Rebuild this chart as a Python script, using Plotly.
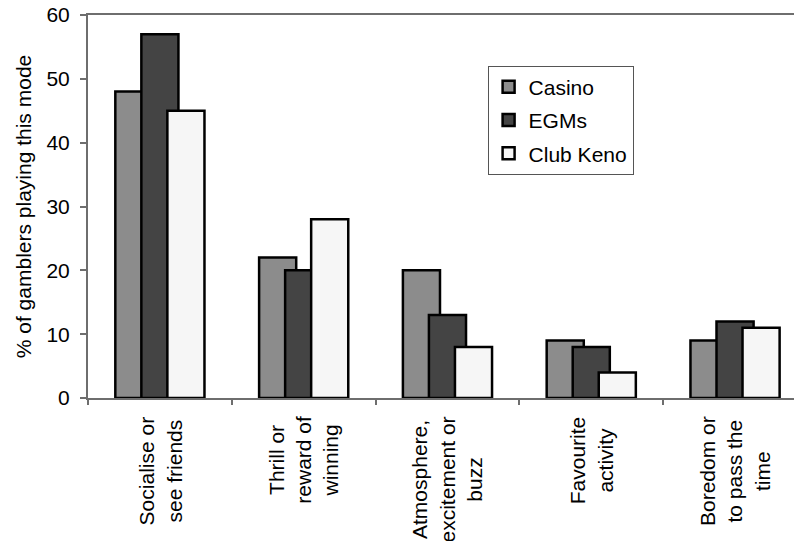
import plotly.graph_objects as go

# Reasons for playing, per gambling mode (% of gamblers)
categories = [
    "Socialise or<br>see friends",
    "Thrill or<br>reward of<br>winning",
    "Atmosphere,<br>excitement or<br>buzz",
    "Favourite<br>activity",
    "Boredom or<br>to pass the<br>time",
]
series_names = ["Casino", "EGMs", "Club Keno"]
casino = [48, 22, 20, 9, 9]
egms = [57, 20, 13, 8, 12]
club_keno = [45, 28, 8, 4, 11]
y_ticks = [0, 10, 20, 30, 40, 50, 60]

FONT = "Liberation Sans, Arial, sans-serif"
FS = 21
fills = ["#8c8c8c", "#444444", "#f6f6f6"]
AXIS = "#6e6e6e"

x_pos = list(range(len(categories)))
bar_w = 0.258
step = 0.181
first_offset = -0.31

fig = go.Figure()
for i, (name, vals) in enumerate(zip(series_names, [casino, egms, club_keno])):
    fig.add_trace(go.Bar(
        x=x_pos, y=vals, name=name,
        width=bar_w, offset=first_offset + i * step,
        marker=dict(color=fills[i], line=dict(color="#000000", width=2.5)),
        legendgroup=name,
    ))

boundaries = [p - 0.5 for p in x_pos]
x_range = [-0.5, 4.41]

# category labels, rotated, lines centred
for p, lab in zip(x_pos, categories):
    fig.add_annotation(
        x=p, xref="x", y=0, yref="paper", yanchor="top", xanchor="center",
        yshift=-16, text=lab, textangle=-90, align="center", showarrow=False,
        font=dict(family=FONT, size=FS, color="#000000"),
    )

fig.update_layout(
    width=794, height=541,
    margin=dict(l=88, r=0, t=15, b=143),
    paper_bgcolor="white", plot_bgcolor="white",
    font=dict(family=FONT, size=FS, color="#000000"),
    barmode="overlay",
    showlegend=True,
    legend=dict(
        x=0.566, y=0.868, xanchor="left", yanchor="top",
        bordercolor="#555555", borderwidth=1, bgcolor="white",
        font=dict(family=FONT, size=FS, color="#000000"),
        tracegroupgap=3,
    ),
    xaxis=dict(
        range=x_range, showgrid=False, zeroline=False,
        tickmode="array", tickvals=boundaries, showticklabels=False,
        ticks="outside", ticklen=5, tickcolor=AXIS, tickwidth=1.5,
        showline=True, linecolor=AXIS, linewidth=2, mirror=True,
    ),
    xaxis2=dict(
        overlaying="x", anchor="y", range=x_range, showgrid=False, zeroline=False,
        tickmode="array", tickvals=boundaries, showticklabels=False,
        ticks="inside", ticklen=8, tickcolor=AXIS, tickwidth=1.5, showline=False,
    ),
    yaxis=dict(
        range=[0, 60], tickmode="array", tickvals=y_ticks,
        showgrid=False, zeroline=False,
        ticks="outside", ticklen=6, tickcolor=AXIS, tickwidth=1.5,
        showline=True, linecolor=AXIS, linewidth=2,
        ticklabelstandoff=6,
        tickfont=dict(family=FONT, size=FS, color="#000000"),
        title=dict(text="% of gamblers playing this mode", standoff=9,
                   font=dict(family=FONT, size=FS, color="#000000")),
    ),
    yaxis2=dict(
        overlaying="y", anchor="x", range=[0, 60], tickmode="array", tickvals=y_ticks,
        showgrid=False, zeroline=False, showticklabels=False,
        ticks="inside", ticklen=7, tickcolor=AXIS, tickwidth=1.5, showline=False,
    ),
)

fig.write_html("out.html")
